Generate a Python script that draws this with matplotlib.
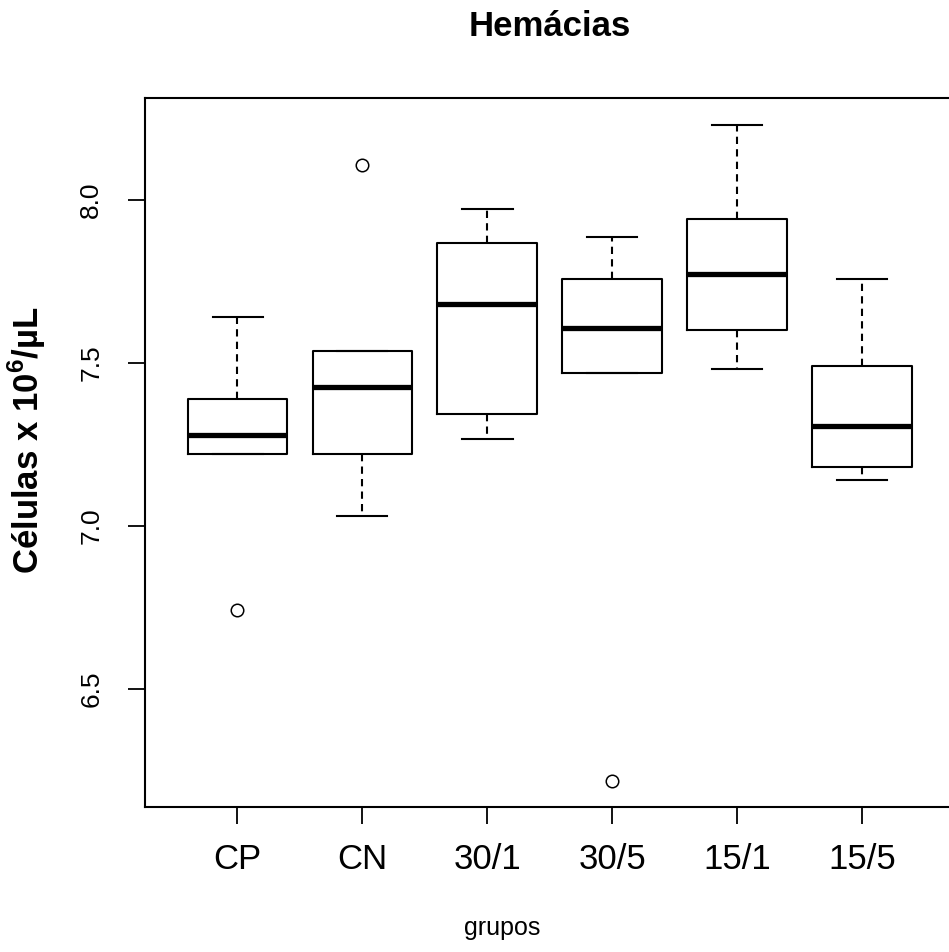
import matplotlib
matplotlib.use("Agg")
import matplotlib.pyplot as plt

plt.rcParams["font.family"] = ["Liberation Sans", "DejaVu Sans"]
plt.rcParams["mathtext.fontset"] = "custom"
plt.rcParams["mathtext.rm"] = "Liberation Sans"
plt.rcParams["mathtext.bf"] = "Liberation Sans:bold"

# Five-number summaries per group (red blood cells, 10^6/uL)
grupos = ["CP", "CN", "30/1", "30/5", "15/1", "15/5"]
whis_lo = [7.221, 7.031, 7.267, 7.470, 7.481, 7.141]
q1 = [7.221, 7.221, 7.343, 7.470, 7.601, 7.180]
medianas = [7.278, 7.427, 7.681, 7.607, 7.774, 7.308]
q3 = [7.390, 7.538, 7.867, 7.758, 7.942, 7.491]
whis_hi = [7.642, 7.538, 7.974, 7.887, 8.229, 7.757]
outliers = [[6.742], [8.107], [], [6.218], [], []]

stats = []
for i, g in enumerate(grupos):
    stats.append({"label": g, "whislo": whis_lo[i], "q1": q1[i], "med": medianas[i],
                  "q3": q3[i], "whishi": whis_hi[i], "fliers": outliers[i]})

fig = plt.figure(figsize=(9.49, 9.52), dpi=100)
ax = fig.add_axes([145 / 949, 1 - 807 / 952, 810 / 949, 709 / 952])

lw = 1.5
ax.bxp(stats, positions=range(1, 7), widths=0.8, capwidths=0.4,
       boxprops=dict(color="black", linewidth=lw),
       whiskerprops=dict(color="black", linewidth=lw, linestyle=(0, (3.5, 2.5))),
       capprops=dict(color="black", linewidth=lw),
       medianprops=dict(color="black", linewidth=3.8, solid_capstyle="butt"),
       flierprops=dict(marker="o", markerfacecolor="none", markeredgecolor="black",
                       markersize=9, markeredgewidth=1.1))

ax.set_xlim(0.26, 6.74)
ax.set_ylim(6.138, 8.313)
ax.set_yticks([6.5, 7.0, 7.5, 8.0])
ax.set_yticklabels(["6.5", "7.0", "7.5", "8.0"], rotation=90, va="center", fontsize=19)
ax.set_xticks(range(1, 7))
ax.set_xticklabels(grupos, fontsize=25)
ax.tick_params(axis="both", length=12, width=1.3, color="black")
ax.tick_params(axis="y", pad=18)
ax.tick_params(axis="x", pad=14)
for s in ax.spines.values():
    s.set_linewidth(1.5)

fig.text(550 / 949, 1 - 27 / 952, "Hemácias", ha="center", va="center",
         fontsize=25, fontweight="bold")
fig.text(27 / 949, 1 - 440 / 952, r"Células x 10$^{\mathbf{6}}$/µL", rotation=90,
         ha="center", va="center", fontsize=25, fontweight="bold")
fig.text(502 / 949, 1 - 928 / 952, "grupos", ha="center", va="center", fontsize=18)

fig.savefig("out.png", dpi=100)
